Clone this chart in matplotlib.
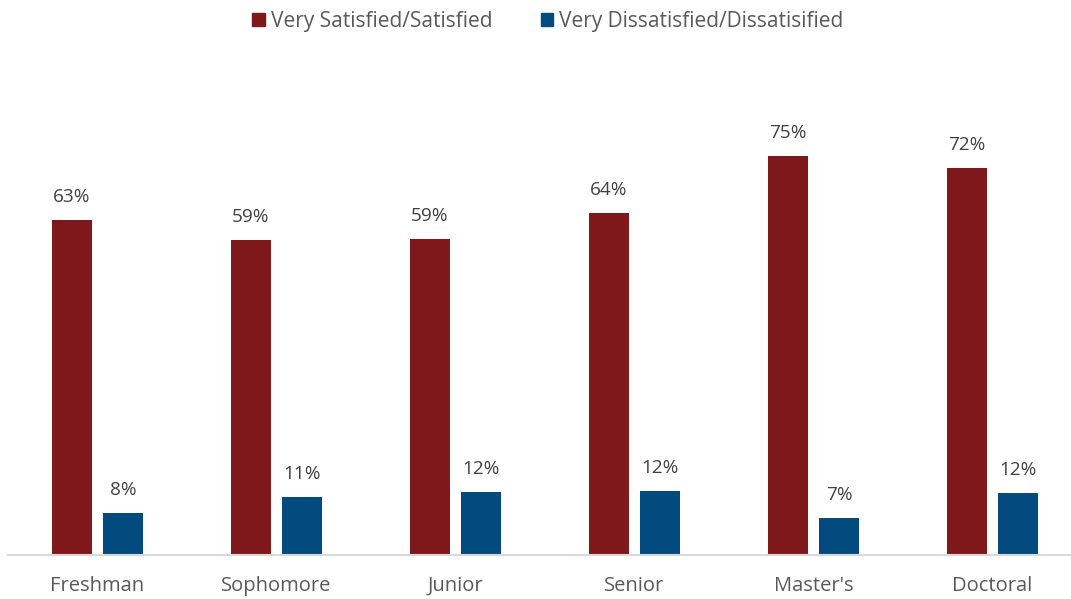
import matplotlib
matplotlib.use("Agg")
import matplotlib.pyplot as plt
from matplotlib.patches import Patch
import numpy as np

categories = ["Freshman", "Sophomore", "Junior", "Senior", "Master's", "Doctoral"]
satisfied = [62.7, 58.9, 59.1, 64.0, 74.6, 72.4]
dissatisfied = [7.8, 10.85, 11.8, 12.0, 6.9, 11.65]
series_names = ["Very Satisfied/Satisfied", "Very Dissatisfied/Dissatisified"]
colors = ["#7F181B", "#034B7E"]

plt.rcParams['font.family'] = ['Open Sans', 'DejaVu Sans']

fig = plt.figure(figsize=(10.71, 5.99), dpi=100)
ax = fig.add_axes([8/1071, 44/599, (1071-8)/1071, (555-60)/599])

x = np.arange(len(categories))
w = 0.224
off = 0.143
b1 = ax.bar(x - off, satisfied, w, color=colors[0])
b2 = ax.bar(x + off, dissatisfied, w, color=colors[1])

for bars, vals in ((b1, satisfied), (b2, dissatisfied)):
    for b, v in zip(bars, vals):
        ax.annotate(f"{round(v):.0f}%", (b.get_x() + b.get_width()/2, v),
                    xytext=(0, 10), textcoords="offset points",
                    ha="center", va="bottom", fontsize=13.7, color="#404040")

ax.set_xlim(-0.5, (1071 - 97.5) / 179)
ax.set_ylim(0, (555-60)/5.345)
ax.set_xticks(x)
ax.set_xticklabels(categories, fontsize=14.5, color="#595959")
ax.tick_params(axis="x", length=0, pad=15)
ax.set_yticks([])
for s in ("top", "right", "left"):
    ax.spines[s].set_visible(False)
ax.spines["bottom"].set_color("#d9d9d9")
ax.spines["bottom"].set_linewidth(1.5)

handles = [Patch(color=c) for c in colors]
fig.legend(handles, series_names, loc="center", bbox_to_anchor=(548/1071, 1 - 21.5/599),
           ncol=2, frameon=False, fontsize=15, labelcolor="#595959",
           handlelength=0.6, handleheight=0.6, handletextpad=0.3, columnspacing=2.3)

fig.savefig("out.png", dpi=100)
